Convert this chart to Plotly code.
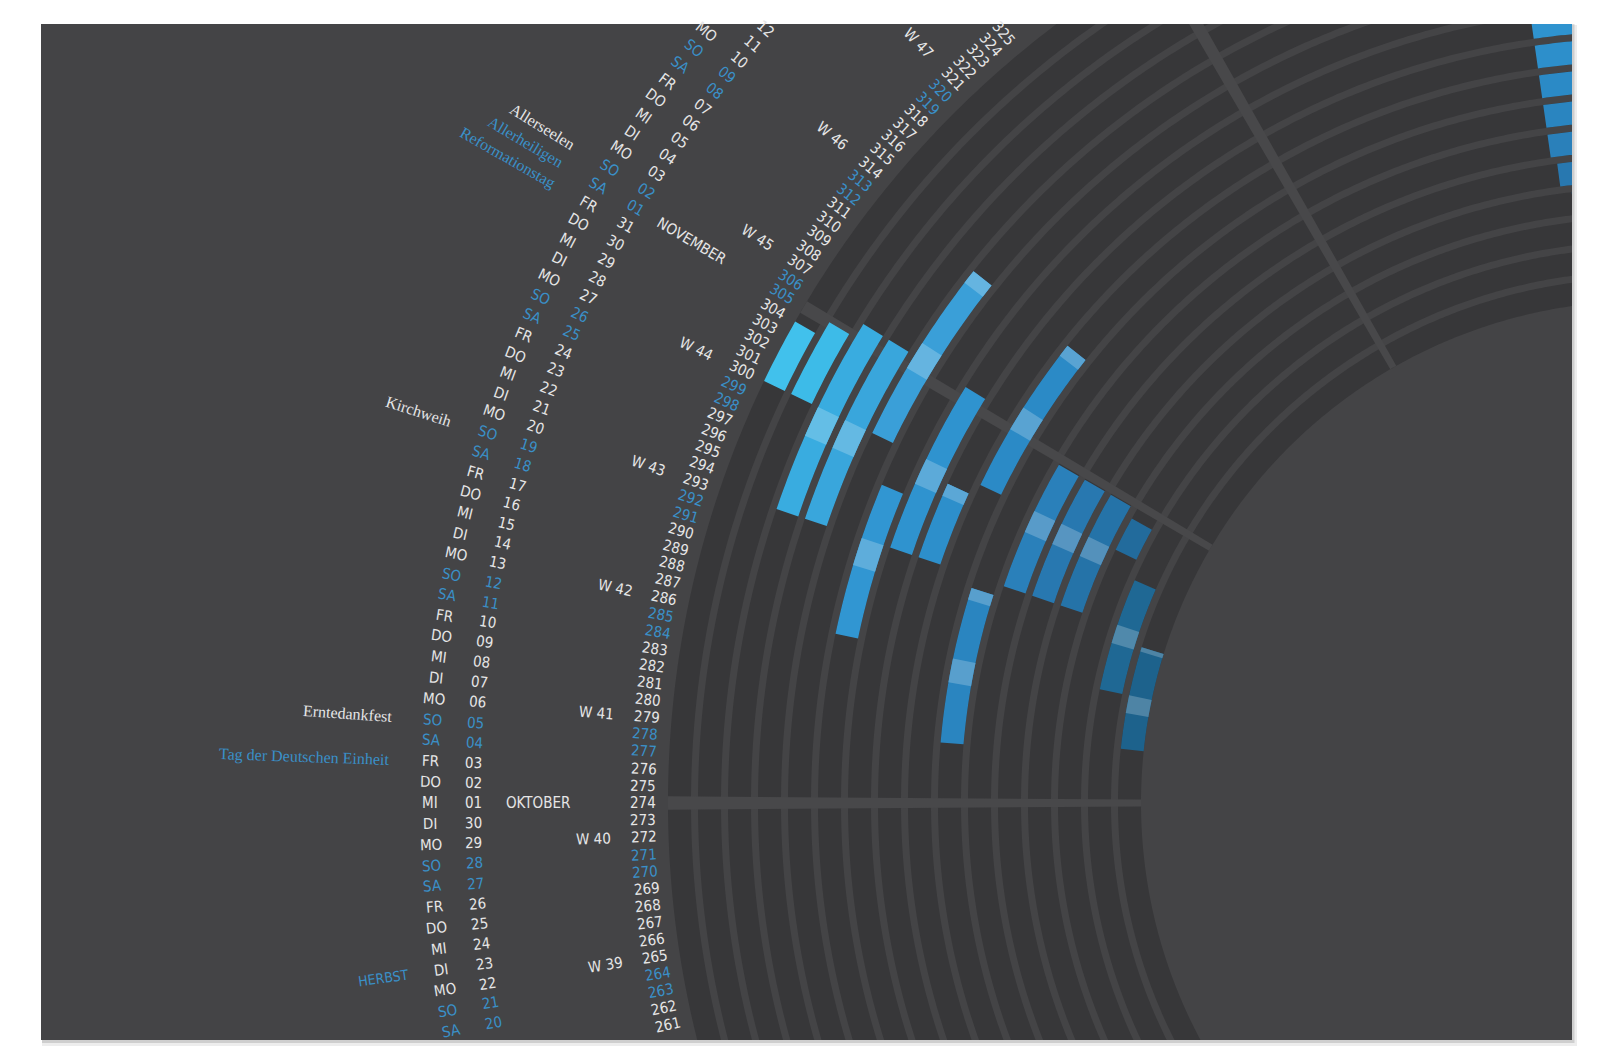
import numpy as np
import datetime as dt
import plotly.graph_objects as go

# ---------------- data ----------------
YEAR = 2014
RINGS = 16
# bars: ring index (0 = outermost), start day, end day (day-of-year coordinate)
bar_ring  = [0,   1,   2,   3,   4,   5,   6,   7,   8,   9,   10,    11,    12,    13,    14,  15,
             6,   7,   8,   9,   10,  11,    12,    13]
bar_start = [300, 300, 293, 293, 300, 286, 293, 293, 300, 279, 293,   293,   293,   300,   286, 280,
             357, 357, 357, 357, 357, 357.5, 358.5, 359.5]
bar_end   = [304, 305, 306, 306, 313, 297, 306, 299, 313, 292, 304.5, 304.5, 304.5, 303.5, 298, 291.5,
             367, 367, 367, 367, 367, 367,   367,   367]
# lighter (weekend) segments inside the bars: ring, start, end
hi_ring  = [2,   3,   4,   4,   5,   6,   7,   8,   8,   9,   9,   10,  11,  12,  14,  15,  15]
hi_start = [298, 298, 305, 312, 291, 298, 298, 305, 312, 284, 291, 298, 298, 298, 291, 284, 291]
hi_end   = [300, 300, 307, 313, 293, 300, 299, 307, 313, 286, 292, 300, 300, 300, 293, 286, 291.5]
ring_colors = ["#41c1ec", "#3dbbe8", "#39ace0", "#39a6dc", "#3a9fd8", "#3196d2", "#2f93cf", "#2d8fcb",
               "#2b8ac6", "#2a85c0", "#2a80ba", "#2878b0", "#2573a8", "#226b9c", "#1f6894", "#1d628c"]
month_days = [244, 274, 305, 335]
month_names = ["SEPTEMBER", "OKTOBER", "NOVEMBER", "DEZEMBER"]
weekday_names = ["MO", "DI", "MI", "DO", "FR", "SA", "SO"]
holiday_names = ["Allerseelen", "Allerheiligen", "Reformationstag", "Kirchweih",
                 "Erntedankfest", "Tag der Deutschen Einheit"]
holiday_days = [306, 305, 304, 292, 278, 276]
holiday_public = [False, True, True, False, False, True]
season_names = ["HERBST"]
season_days = [266]
label_days = list(range(236, 346))

# ---------------- geometry ----------------
CX, CY = 1635, 795
R_OUT, PITCH, BAND = 975, 30, 23
DEG = 360 / 365
X0, X1, Y0, Y1 = 33, 1564, 16, 1032
BG = "#444446"
RINGBG = "#373739"
WHITE = "#e6e6e6"
BLUE = "#3a90c8"
SANS = "DejaVu Sans Condensed, Roboto, sans-serif"
SERIF = "Liberation Serif, serif"


def pt(r, d):
    phi = np.radians((d - 274) * DEG)
    return CX - r * np.cos(phi), CY - r * np.sin(phi)


def arc(r0, r1, d0, d1):
    n = max(4, int(abs(d1 - d0) * 3))
    ds = np.linspace(d0, d1, n)
    xo, yo = pt(r1, ds)
    xi, yi = pt(r0, ds[::-1])
    xs = list(xo) + list(xi) + [xo[0], None]
    ys = list(yo) + list(yi) + [yo[0], None]
    return xs, ys


def ring_r(i):
    ro = R_OUT - PITCH * i
    return ro - BAND, ro


def lighten(hexc, f):
    h = hexc.lstrip("#")
    c = [int(h[k:k + 2], 16) for k in (0, 2, 4)]
    c = [int(v + (255 - v) * f) for v in c]
    return "#%02x%02x%02x" % tuple(c)


fig = go.Figure()

# ring bands
xs, ys = [], []
for i in range(RINGS):
    a, b = ring_r(i)
    px, py = arc(a, b, 230, 372)
    xs += px; ys += py
fig.add_trace(go.Scatter(x=xs, y=ys, fill="toself", fillcolor=RINGBG, mode="none", hoverinfo="skip"))

# month boundary lines
xs, ys = [], []
for d in month_days:
    px, py = arc(ring_r(RINGS - 1)[0], R_OUT, d - 0.4, d + 0.4)
    xs += px; ys += py
fig.add_trace(go.Scatter(x=xs, y=ys, fill="toself", fillcolor="#48484a", mode="none", hoverinfo="skip"))

# bars
for i, s, e in zip(bar_ring, bar_start, bar_end):
    a, b = ring_r(i)
    px, py = arc(a, b, s, e)
    fig.add_trace(go.Scatter(x=px, y=py, fill="toself", fillcolor=ring_colors[i], mode="none",
                             hoverinfo="skip"))
for i, s, e in zip(hi_ring, hi_start, hi_end):
    a, b = ring_r(i)
    px, py = arc(a, b, s, e)
    fig.add_trace(go.Scatter(x=px, y=py, fill="toself", fillcolor=lighten(ring_colors[i], 0.22),
                             mode="none", hoverinfo="skip"))

ann = []


def add_label(text, r, d, color, size, family=SANS):
    x, y = pt(r, d)
    if X0 + 6 < x < X1 - 6 and Y0 + 4 < y < Y1 - 4:
        ann.append(dict(x=x, y=y, text=text, showarrow=False, textangle=(d - 274) * DEG,
                        font=dict(color=color, size=size, family=family),
                        xref="x", yref="y"))


start = dt.date(YEAR, 1, 1)
for d in label_days:
    date = start + dt.timedelta(days=d - 1)
    wd = date.weekday()
    col = BLUE if wd >= 5 else WHITE
    add_label(str(d), 1000, d, col, 15)
    add_label(weekday_names[wd], 1213, d, col, 15)
    add_label("%02d" % date.day, 1170, d, col, 15)
    if wd == 0:
        add_label("W %d" % date.isocalendar()[1], 1050, d, WHITE, 15)

for name, d in zip(month_names, month_days):
    add_label(name, 1105, d, WHITE, 15)

for name, d, pub in zip(holiday_names, holiday_days, holiday_public):
    w = 6.9 * len(name)
    add_label(name, 1254 + w / 2, d, BLUE if pub else WHITE, 16, SERIF)

for name, d in zip(season_names, season_days):
    add_label(name, 1272, d, BLUE, 14)

shapes = [
    dict(type="rect", xref="paper", yref="paper", x0=(X0 + 1) / 1600, x1=(X1 + 5) / 1600,
         y0=1 - (Y1 + 6) / 1060, y1=1 - (Y0 + 1) / 1060, fillcolor="rgba(0,0,0,0.07)",
         line=dict(width=0), layer="below"),
    dict(type="rect", xref="paper", yref="paper", x0=(X0 + 1) / 1600, x1=(X1 + 2.5) / 1600,
         y0=1 - (Y1 + 3) / 1060, y1=1 - Y0 / 1060, fillcolor="rgba(0,0,0,0.13)",
         line=dict(width=0), layer="below"),
    dict(type="rect", xref="paper", yref="paper", x0=X0 / 1600, x1=X1 / 1600,
         y0=1 - Y1 / 1060, y1=1 - Y0 / 1060, fillcolor=BG,
         line=dict(width=0), layer="below"),
]

fig.update_layout(
    width=1600, height=1060, margin=dict(l=0, r=0, t=0, b=0),
    paper_bgcolor="#ffffff", plot_bgcolor="rgba(0,0,0,0)", showlegend=False,
    xaxis=dict(range=[X0, X1], domain=[X0 / 1600, X1 / 1600], visible=False, fixedrange=True),
    yaxis=dict(range=[Y1, Y0], domain=[1 - Y1 / 1060, 1 - Y0 / 1060], visible=False, fixedrange=True),
    annotations=ann, shapes=shapes,
)
fig.write_html("out.html")
